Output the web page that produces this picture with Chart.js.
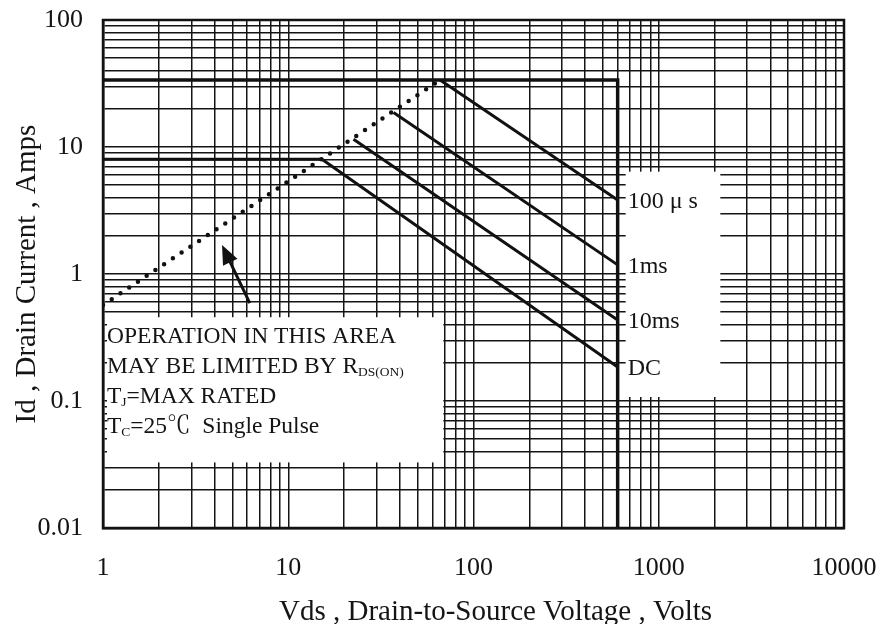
<!DOCTYPE html>
<html><head><meta charset="utf-8">
<script src="https://cdn.jsdelivr.net/npm/chart.js@4.4.0/dist/chart.umd.min.js"></script>
<style>html,body{margin:0;padding:0;background:#fff}#wrap{width:883px;height:624px;position:relative}</style>
</head><body><div id="wrap"><canvas id="c"></canvas></div>
<script>
// ---- data ----
const xTickValues = [1, 10, 100, 1000, 10000];
const xTickLabels = ['1', '10', '100', '1000', '10000'];
const yTickValues = [0.01, 0.1, 1, 10, 100];
const yTickLabels = ['0.01', '0.1', '1', '10', '100'];

const limitBoundary = [{x: 1, y: 33.7}, {x: 600, y: 33.7}, {x: 600, y: 0.01}];
const dcCurve      = [{x: 1, y: 8}, {x: 15.2, y: 8}, {x: 600, y: 0.185}];
const ms10Curve    = [{x: 22.5, y: 11.5}, {x: 600, y: 0.434}];
const ms1Curve     = [{x: 37, y: 18.7}, {x: 600, y: 1.18}];
const us100Curve   = [{x: 66, y: 33.7}, {x: 600, y: 3.83}];
const rdsonLimit   = [{x: 1, y: 0.57}, {x: 66, y: 33.7}];

const curveLabels = ['100 μ s', '1ms', '10ms', 'DC'];
const curveLabelValues = [3.83, 1.18, 0.434, 0.185];
const curveLabelVoltage = 600;

const arrowTail = {x: 6.2, y: 0.59};
const arrowHead = {x: 4.39, y: 1.69};

const noteLines = [
  [{t: 'OPERATION IN THIS AREA'}],
  [{t: 'MAY BE LIMITED BY R'}, {t: 'DS(ON)', sub: true}],
  [{t: 'T'}, {t: 'J', sub: true}, {t: '=MAX RATED'}],
  [{t: 'T'}, {t: 'C', sub: true}, {t: '=25℃  Single Pulse'}]
];
const xTitle = 'Vds , Drain-to-Source Voltage , Volts';
const yTitle = 'Id , Drain Current , Amps';

// note box bounds (data units)
const noteBox = {x0: 1, x1: 70, y0: 0.5, y1: 0.03};
const labelBox = {x0: 600, x1: 2150, y0: 7, y1: 0.1};

// ---- helpers ----
function logGrid(minExp, maxExp) {
  const v = [];
  for (let e = minExp; e < maxExp; e++) {
    for (let m = 1; m <= 9; m++) v.push(Number((m * Math.pow(10, e)).toPrecision(6)));
  }
  v.push(Number(Math.pow(10, maxExp).toPrecision(6)));
  return v;
}
function labelFor(values, labels, val) {
  for (let i = 0; i < values.length; i++) {
    if (Math.abs(values[i] - val) / values[i] < 1e-6) return labels[i];
  }
  return '';
}
function zeroPad(s) { s.paddingTop = 0; s.paddingBottom = 0; s.paddingLeft = 0; s.paddingRight = 0; }

const SERIF = "'Liberation Serif', 'Noto Serif CJK SC', 'Noto Sans CJK SC', serif";
const INK = '#141414';
Chart.defaults.font.family = SERIF;
Chart.defaults.color = INK;

const overlayPlugin = {
  id: 'overlay',
  beforeDatasetsDraw(chart) {
    const {ctx, scales: {x, y}} = chart;
    ctx.save();
    ctx.fillStyle = '#ffffff';
    // note box
    let l = x.getPixelForValue(noteBox.x0) + 4, r = x.getPixelForValue(noteBox.x1) - 1.5;
    let t = y.getPixelForValue(noteBox.y0) + 5, b = y.getPixelForValue(noteBox.y1) - 5;
    ctx.fillRect(l, t, r - l, b - t);
    // label box
    l = x.getPixelForValue(labelBox.x0) + 8; r = x.getPixelForValue(labelBox.x1);
    t = y.getPixelForValue(labelBox.y0) + 5; b = y.getPixelForValue(labelBox.y1) - 4;
    ctx.fillRect(l, t, r - l, b - t);
    ctx.restore();
  },
  afterDatasetsDraw(chart) {
    const {ctx, chartArea: ca, scales: {x, y}} = chart;
    ctx.save();
    // frame
    ctx.strokeStyle = '#111';
    ctx.lineWidth = 2.5;
    ctx.strokeRect(ca.left, ca.top, ca.right - ca.left, ca.bottom - ca.top);

    // arrow
    const tx = x.getPixelForValue(arrowTail.x), ty = y.getPixelForValue(arrowTail.y);
    const hx = x.getPixelForValue(arrowHead.x), hy = y.getPixelForValue(arrowHead.y);
    const ang = Math.atan2(hy - ty, hx - tx);
    const hl = 19, hw = 8;
    const bx = hx - hl * Math.cos(ang), by = hy - hl * Math.sin(ang);
    ctx.strokeStyle = '#111'; ctx.fillStyle = '#111';
    ctx.lineWidth = 3;
    ctx.beginPath(); ctx.moveTo(tx, ty); ctx.lineTo(bx + 4 * Math.cos(ang), by + 4 * Math.sin(ang)); ctx.stroke();
    ctx.beginPath();
    ctx.moveTo(hx, hy);
    ctx.lineTo(bx + hw * Math.sin(ang), by - hw * Math.cos(ang));
    ctx.lineTo(bx - hw * Math.sin(ang), by + hw * Math.cos(ang));
    ctx.closePath(); ctx.fill();

    // curve labels
    ctx.fillStyle = INK;
    ctx.font = '24px ' + SERIF;
    ctx.textAlign = 'left'; ctx.textBaseline = 'middle';
    const lx = x.getPixelForValue(curveLabelVoltage) + 10;
    curveLabels.forEach((s, i) => {
      ctx.fillText(s, lx, y.getPixelForValue(curveLabelValues[i]) + 2);
    });

    // note text
    ctx.textBaseline = 'alphabetic';
    const nx = ca.left + 4;
    let base = 343;
    noteLines.forEach(line => {
      let cx = nx;
      line.forEach(seg => {
        ctx.font = (seg.sub ? '13.5px ' : '23.5px ') + SERIF;
        ctx.fillText(seg.t, cx, base + (seg.sub ? 3 : 0));
        cx += ctx.measureText(seg.t).width;
      });
      base += 30;
    });

    // axis titles
    ctx.font = '29px ' + SERIF;
    ctx.textAlign = 'center';
    ctx.fillText(xTitle, (ca.left + ca.right) / 2 + 22, 620);
    ctx.save();
    ctx.translate(35, (ca.top + ca.bottom) / 2);
    ctx.rotate(-Math.PI / 2);
    ctx.fillText(yTitle, 0, 0);
    ctx.restore();
    ctx.restore();
  }
};

function ds(data, opts) {
  return Object.assign({
    data, borderColor: '#111', borderWidth: 3, pointRadius: 0, fill: false,
    tension: 0, borderJoinStyle: 'miter'
  }, opts || {});
}

new Chart(document.getElementById('c'), {
  type: 'line',
  data: {
    datasets: [
      ds(limitBoundary, {borderWidth: 3.5}),
      ds(dcCurve),
      ds(ms10Curve),
      ds(ms1Curve),
      ds(us100Curve),
      ds(rdsonLimit, {borderWidth: 4.5, borderDash: [0, 10.5], borderCapStyle: 'round'})
    ]
  },
  options: {
    responsive: true, maintainAspectRatio: false, animation: false,
    layout: {padding: {top: 20, right: 39, bottom: 0, left: 0}},
    plugins: {legend: {display: false}, tooltip: {enabled: false}},
    scales: {
      x: {
        type: 'logarithmic', min: 1, max: 10000,
        afterBuildTicks: s => { s.ticks = logGrid(0, 4).map(v => ({value: v})); },
        afterFit: s => { s.height = 96; zeroPad(s); },
        grid: {color: INK, lineWidth: 1.5, drawTicks: false},
        border: {display: true, color: '#111', width: 2.5},
        ticks: {autoSkip: false, maxRotation: 0, padding: 25, color: INK, font: {size: 26},
          callback: v => labelFor(xTickValues, xTickLabels, v)}
      },
      y: {
        type: 'logarithmic', min: 0.01, max: 100,
        afterBuildTicks: s => { s.ticks = logGrid(-2, 2).map(v => ({value: v})); },
        afterFit: s => { s.width = 103; zeroPad(s); },
        grid: {color: INK, lineWidth: 1.5, drawTicks: false},
        border: {display: true, color: '#111', width: 2.5},
        ticks: {autoSkip: false, padding: 20, color: INK, font: {size: 26},
          callback: v => labelFor(yTickValues, yTickLabels, v)}
      }
    }
  },
  plugins: [overlayPlugin]
});
</script>
</body></html>
